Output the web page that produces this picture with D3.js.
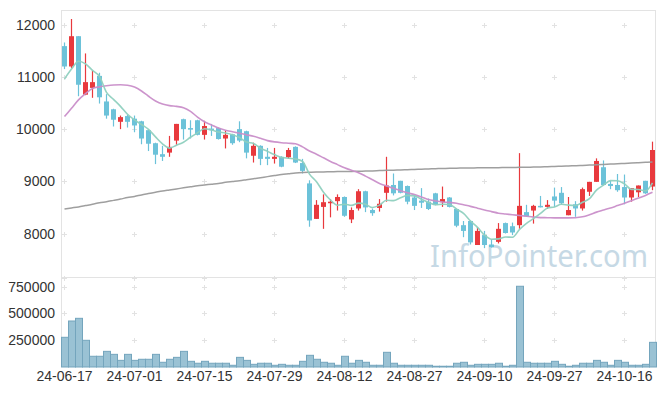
<!DOCTYPE html>
<html>
<head>
<meta charset="utf-8">
<script src="https://cdn.jsdelivr.net/npm/d3@7/dist/d3.min.js"></script>
<style>
  body { margin: 0; background: #fff; }
  svg { display: block; font-family: "Noto Sans", sans-serif; }
</style>
</head>
<body>
<svg id="chart" width="665" height="396"></svg>
<script>
// trading days
const dates = [
  "2024-06-17","2024-06-18","2024-06-19","2024-06-20","2024-06-21","2024-06-24","2024-06-25","2024-06-26","2024-06-27","2024-06-28",
  "2024-07-01","2024-07-02","2024-07-03","2024-07-04","2024-07-05","2024-07-08","2024-07-09","2024-07-10","2024-07-11","2024-07-12",
  "2024-07-15","2024-07-16","2024-07-17","2024-07-18","2024-07-19","2024-07-22","2024-07-23","2024-07-24","2024-07-25","2024-07-26",
  "2024-07-29","2024-07-30","2024-07-31","2024-08-01","2024-08-02","2024-08-05","2024-08-06","2024-08-07","2024-08-08","2024-08-09",
  "2024-08-12","2024-08-13","2024-08-14","2024-08-16","2024-08-19","2024-08-20","2024-08-21","2024-08-22","2024-08-23","2024-08-26",
  "2024-08-27","2024-08-28","2024-08-29","2024-08-30","2024-09-02","2024-09-03","2024-09-04","2024-09-05","2024-09-06","2024-09-09",
  "2024-09-10","2024-09-11","2024-09-12","2024-09-13","2024-09-19","2024-09-20","2024-09-23","2024-09-24","2024-09-25","2024-09-26",
  "2024-09-27","2024-09-30","2024-10-02","2024-10-04","2024-10-07","2024-10-08","2024-10-10","2024-10-11","2024-10-14","2024-10-15",
  "2024-10-16","2024-10-17","2024-10-18","2024-10-21","2024-10-22"
]
const opens = [
  11590,11200,11780,10660,10790,11020,10530,10380,10140,10250,
  10200,10150,9980,9730,9520,9550,9780,10190,10020,10170,
  9890,10010,10020,9820,9900,10000,9960,9490,9680,9470,
  9430,9470,9460,9660,9350,8960,8280,8510,8580,8620,
  8700,8270,8480,8810,8450,8490,8780,8930,9010,8910,
  8690,8630,8610,8770,8600,8690,8470,8160,8240,7780,
  7970,7790,7840,8200,8140,8160,8410,8440,8530,8510,
  8710,8780,8350,8560,8480,8800,8990,9270,8950,8930,
  8890,8690,8790,9010,8900
]
const highs = [
  11660,12110,11780,11450,11120,11080,10670,10390,10260,10280,
  10260,10160,9990,9740,9680,9870,10100,10200,10170,10180,
  10160,10100,10030,9970,9910,10150,9970,9740,9690,9640,
  9640,9480,9640,9670,9430,9020,8640,8750,8660,8750,
  8710,8500,8850,8820,8480,8660,9470,9150,9010,8920,
  8740,8870,8670,8780,8900,8700,8480,8240,8250,8120,
  8050,7890,8200,8210,8210,9540,8550,8550,8720,8640,
  8880,8890,8700,8620,8880,8990,9440,9400,9010,9140,
  9130,8870,8920,9010,9760
]
const lows = [
  11150,11170,10630,10650,10600,10490,10200,10050,10000,10030,
  9940,9710,9580,9330,9390,9470,9700,9800,9820,9880,
  9800,9870,9800,9630,9700,9750,9440,9360,9310,9310,
  9340,9270,9430,9350,9150,8130,8280,8090,8310,8440,
  8320,8200,8440,8410,8340,8420,8610,8730,8770,8560,
  8450,8490,8450,8540,8510,8500,8120,7930,7790,7780,
  7720,7730,7810,8000,7970,8090,8320,8190,8500,8470,
  8510,8550,8350,8320,8440,8720,8990,8920,8850,8800,
  8560,8610,8700,8760,8830
]
const closes = [
  11200,11780,10850,10900,10900,10610,10260,10180,10230,10140,
  10070,9820,9720,9510,9470,9660,10100,10000,9990,9890,
  10060,9980,9810,9890,9730,9780,9550,9680,9430,9430,
  9470,9280,9600,9360,9200,8250,8550,8600,8610,8700,
  8340,8450,8810,8500,8390,8570,8920,8770,8780,8610,
  8530,8590,8470,8550,8660,8510,8150,8050,7830,8050,
  7780,7740,8090,8010,8020,8530,8330,8530,8510,8550,
  8630,8580,8450,8480,8850,8990,9390,8930,8910,8830,
  8690,8870,8920,8770,9600
]
const volumes = [
  277000,429000,454000,249000,100000,100000,146000,118000,62000,118000,
  62000,72000,72000,118000,44000,72000,90000,146000,53000,35000,
  53000,35000,35000,35000,16000,90000,62000,25000,35000,35000,
  16000,25000,16000,16000,53000,109000,72000,44000,35000,16000,
  100000,35000,62000,44000,16000,16000,137000,35000,16000,16000,
  16000,16000,16000,7000,7000,7000,35000,44000,16000,25000,
  25000,25000,35000,7000,16000,753000,44000,35000,35000,35000,
  53000,25000,7000,16000,35000,35000,62000,44000,16000,62000,
  44000,16000,16000,25000,230000
]
// moving averages as drawn
const ma5 = [
  10960,11150,11300,11250,11126,11008,10704,10570,10436,10284,
  10176,10088,9996,9852,9718,9636,9692,9748,9844,9928,
  10008,9984,9946,9926,9894,9838,9752,9726,9634,9574,
  9512,9458,9442,9428,9382,9138,8992,8792,8642,8542,
  8560,8540,8582,8560,8498,8544,8638,8630,8686,8730,
  8722,8656,8596,8550,8560,8556,8468,8384,8240,8118,
  7972,7890,7898,7934,7928,8078,8196,8284,8384,8490,
  8510,8560,8544,8538,8598,8670,8832,8928,9014,9010,
  8950,8846,8844,8816,8970
]
const ma20 = [
  10240,10400,10560,10680,10780,10810,10830,10845,10850,10840,
  10805,10730,10630,10540,10480,10450,10435,10410,10340,10230,
  10140,10080,10020,9980,9950,9920,9890,9865,9825,9780,
  9755,9740,9730,9720,9660,9580,9520,9450,9380,9320,
  9260,9210,9165,9100,9030,8960,8910,8866,8820,8780,
  8745,8700,8650,8625,8605,8596,8580,8550,8520,8485,
  8450,8420,8390,8375,8360,8345,8330,8315,8305,8303,
  8300,8300,8300,8303,8320,8360,8410,8450,8490,8535,
  8580,8630,8680,8730,8790
]
const ma120 = [
  8470,8490,8510,8535,8560,8590,8610,8635,8660,8690,
  8710,8740,8765,8790,8815,8835,8855,8875,8895,8915,
  8930,8945,8960,8980,8995,9010,9030,9050,9070,9090,
  9110,9130,9145,9160,9170,9175,9178,9180,9183,9186,
  9188,9190,9193,9197,9200,9205,9210,9214,9218,9222,
  9227,9232,9237,9242,9246,9250,9252,9254,9256,9258,
  9260,9261,9262,9264,9266,9268,9270,9273,9276,9280,
  9284,9289,9294,9300,9305,9311,9317,9323,9330,9336,
  9343,9350,9357,9365,9372
]
const priceTicks = [8000, 9000, 10000, 11000, 12000]
const volumeTicks = [250000, 500000, 750000]

const plotLeft = 61, plotRight = 656, plotTop = 10, plotSplit = 278, plotBottom = 367
const upColor = "#e8393d", downColor = "#6cc2d9"

const svg = d3.select("#chart")

const x = d3.scaleBand().domain(dates).range([plotLeft, plotRight]).padding(0)
const cx = d => x(d) + x.bandwidth() / 2
const y = d3.scaleLinear().domain([7148, 12282]).range([plotSplit, plotTop])
const yv = d3.scaleLinear().domain([0, 830000]).range([plotBottom, plotSplit])

const rows = dates.map((d, i) => ({
  date: d, o: opens[i], h: highs[i], l: lows[i], c: closes[i], v: volumes[i]
}))
const xTicks = dates.filter((d, i) => i % 10 === 0)

// frame
const frame = svg.append("g").attr("class", "frame")
  .attr("stroke", "#e3e3e3").attr("fill", "none")
frame.append("line").attr("x1", plotLeft).attr("x2", plotRight).attr("y1", plotTop + 0.5).attr("y2", plotTop + 0.5)
frame.append("line").attr("x1", plotLeft).attr("x2", plotRight).attr("y1", plotSplit - 0.5).attr("y2", plotSplit - 0.5)
frame.append("line").attr("x1", plotLeft + 0.5).attr("x2", plotLeft + 0.5).attr("y1", plotTop).attr("y2", plotBottom)
frame.append("line").attr("x1", plotRight - 0.5).attr("x2", plotRight - 0.5).attr("y1", plotTop).attr("y2", plotBottom)

// grid crosses
const crossPts = []
xTicks.forEach(d => {
  priceTicks.forEach(p => crossPts.push([cx(d), y(p)]))
  volumeTicks.forEach(v => crossPts.push([cx(d), yv(v)]))
  crossPts.push([cx(d), plotSplit - 0.5])
})
svg.append("g").attr("class", "cross")
  .selectAll("path")
  .data(crossPts)
  .enter()
  .append("path")
  .attr("d", p => `M${Math.floor(p[0]) - 2},${Math.round(p[1]) + 0.5}h5M${Math.floor(p[0]) + 0.5},${Math.round(p[1]) - 2}v5`)
  .attr("stroke", "#e2e2e2")
  .attr("stroke-width", 1)

// watermark
svg.append("text")
  .attr("x", 430)
  .attr("y", 267)
  .attr("font-size", 30)
  .attr("textLength", 218)
  .attr("lengthAdjust", "spacingAndGlyphs")
  .attr("fill", "#c6d9e5")
  .text("InfoPointer.com")

// volume bars
svg.append("g").attr("class", "volume")
  .selectAll("rect")
  .data(rows)
  .enter()
  .append("rect")
  .attr("x", d => x(d.date) + 0.5)
  .attr("width", x.bandwidth())
  .attr("y", d => yv(d.v))
  .attr("height", d => plotBottom - yv(d.v))
  .attr("fill", "#9ac2d4")
  .attr("stroke", "#74a5bd")
  .attr("stroke-width", 1)

// candles
const candles = svg.append("g").attr("class", "candles")
  .selectAll("g")
  .data(rows)
  .enter()
  .append("g")
  .attr("fill", d => d.c >= d.o ? upColor : downColor)
  .attr("stroke", d => d.c >= d.o ? upColor : downColor)

candles.append("line")
  .attr("x1", d => cx(d.date))
  .attr("x2", d => cx(d.date))
  .attr("y1", d => y(d.h))
  .attr("y2", d => y(d.l))
  .attr("stroke-width", 1.2)

candles.append("rect")
  .attr("x", d => x(d.date) + 1)
  .attr("width", x.bandwidth() - 2)
  .attr("y", d => y(Math.max(d.o, d.c)))
  .attr("height", d => Math.max(1.5, Math.abs(y(d.o) - y(d.c))))
  .attr("stroke", "none")

// moving averages
const maLine = d3.line()
  .x((d, i) => cx(dates[i]))
  .y(d => y(d))
  .curve(d3.curveMonotoneX)

const mas = [
  { values: ma120, color: "#9a9a9a", width: 1.5 },
  { values: ma20, color: "#c98ec9", width: 1.6 },
  { values: ma5, color: "#8fd0bf", width: 1.6 }
]
svg.append("g").attr("class", "ma")
  .selectAll("path")
  .data(mas)
  .enter()
  .append("path")
  .attr("d", d => maLine(d.values))
  .attr("fill", "none")
  .attr("stroke", d => d.color)
  .attr("stroke-width", d => d.width)
  .attr("opacity", 0.95)

// axes
const styleAxis = g => {
  g.select(".domain").remove()
  g.selectAll("text").attr("fill", "#333").attr("font-size", 14)
}

svg.append("g")
  .attr("transform", `translate(${plotLeft},0)`)
  .call(d3.axisLeft(y).tickValues(priceTicks).tickSize(0).tickPadding(6).tickFormat(d3.format("d")))
  .call(styleAxis)

svg.append("g")
  .attr("transform", `translate(${plotLeft},0)`)
  .call(d3.axisLeft(yv).tickValues(volumeTicks).tickSize(0).tickPadding(6).tickFormat(d3.format("d")))
  .call(styleAxis)

svg.append("g")
  .attr("transform", `translate(0,${plotBottom})`)
  .call(d3.axisBottom(x).tickValues(xTicks).tickSize(0).tickPadding(4).tickFormat(d => d.slice(2)))
  .call(styleAxis)
</script>
</body>
</html>
